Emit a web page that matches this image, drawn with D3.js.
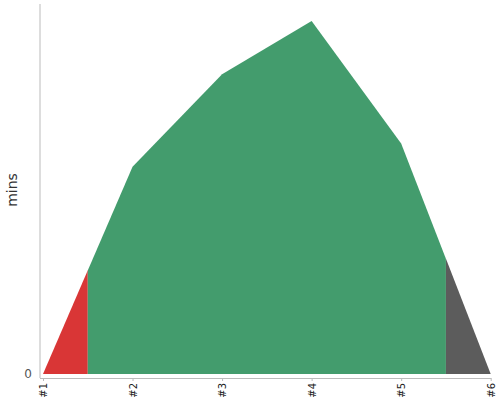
<!DOCTYPE html>
<html><head><meta charset="utf-8">
<script src="https://cdn.jsdelivr.net/npm/d3@7"></script>
<style>
html,body{margin:0;padding:0;background:#fff;}
svg{display:block;font-family:"DejaVu Sans",sans-serif;}
</style></head>
<body>
<svg id="c" width="500" height="400"></svg>
<script>
const categories = ["#1","#2","#3","#4","#5","#6"];
const values = [0, 56, 81, 95.4, 62.3, 0];
const yTicks = [0];
const segmentColors = ["#d93636", "#439c6d", "#5c5c5c"];

const svg = d3.select("#c");
const x = d3.scalePoint().domain(categories).range([43, 490.7]);
const y = d3.scaleLinear().domain([0, 100]).range([374, 4]);
const data = categories.map((c, i) => ({c, v: values[i]}));

const area = d3.area().x(d => x(d.c)).y0(y(0)).y1(d => y(d.v));

const step = x.step();
const x0 = x(categories[0]), xN = x(categories[categories.length - 1]);
const bounds = [[x0 - 1, x0 + step / 2], [x0 + step / 2, xN - step / 2], [xN - step / 2, xN + 1]];
const defs = svg.append("defs");
bounds.forEach((b, i) => {
  defs.append("clipPath").attr("id", "clip" + i)
    .append("rect").attr("x", b[0]).attr("y", 0).attr("width", b[1] - b[0]).attr("height", 400);
  svg.append("path").datum(data).attr("d", area)
    .attr("fill", segmentColors[i]).attr("clip-path", `url(#clip${i})`);
});

// y axis
svg.append("line").attr("x1", 40).attr("x2", 40).attr("y1", y(100)).attr("y2", 378)
  .attr("stroke", "#bbb").attr("stroke-width", 1);
svg.selectAll(".yt").data(yTicks).enter().append("text")
  .attr("x", 32).attr("y", d => y(d)).attr("dy", "0.35em")
  .attr("text-anchor", "end").attr("font-size", 12).attr("fill", "#555").text(d => d);

// x axis
const xg = svg.append("g").attr("transform", "translate(0,378)")
  .call(d3.axisBottom(x).tickSize(3).tickSizeOuter(0));
xg.select(".domain").attr("stroke", "#bbb").attr("d", `M40,0.5H${xN + 0.5}`);
xg.selectAll(".tick line").attr("stroke", "#bbb");
xg.selectAll(".tick text")
  .attr("transform", "rotate(-90)")
  .attr("x", -5).attr("y", 0).attr("dy", "0.35em")
  .attr("text-anchor", "end").attr("font-size", 10).attr("fill", "#222")
  .attr("font-family", "DejaVu Sans, sans-serif");

// y label
svg.append("text").attr("transform", "translate(17,190) rotate(-90)")
  .attr("text-anchor", "middle").attr("font-size", 14).attr("fill", "#333").text("mins");
</script>
</body></html>
